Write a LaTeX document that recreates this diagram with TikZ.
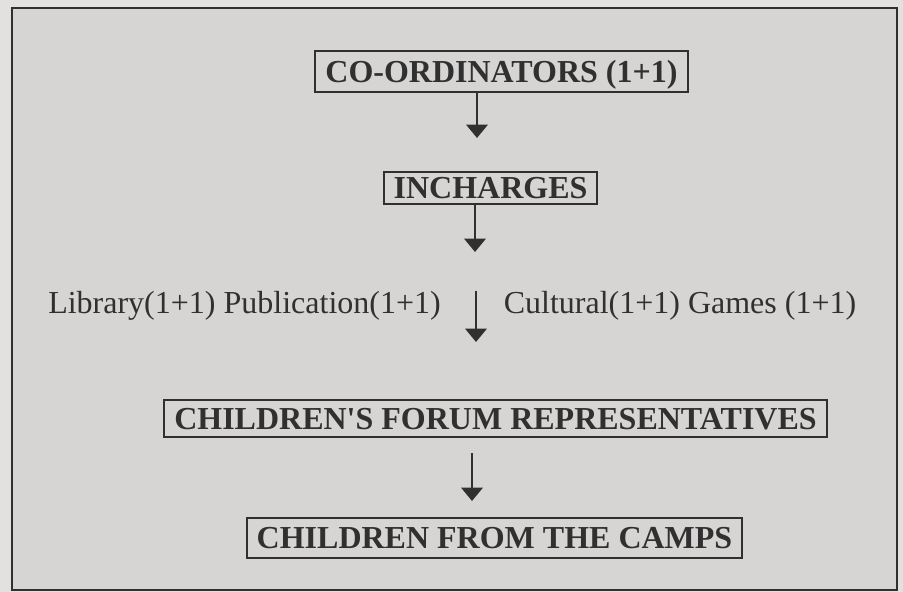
\documentclass[tikz,border=0pt]{standalone}
\usepackage{fontspec}
\setmainfont{Liberation Serif}
\usetikzlibrary{arrows.meta}
\definecolor{paper}{RGB}{214,213,212}
\definecolor{margin}{RGB}{226,225,224}
\definecolor{ink}{RGB}{48,48,48}

\begin{document}
\begin{tikzpicture}[x=0.75pt,y=-0.75pt,
    orgbox/.style={draw=ink, line width=1.5pt, text=ink,
      font=\fontsize{24}{28}\selectfont\bfseries,
      inner xsep=7.5pt, inner ysep=0pt, text height=19.5pt, text depth=3.5pt},
    rowtext/.style={text=ink, inner sep=0pt, anchor=base,
      font=\fontsize{24}{28}\selectfont},
    flow/.style={draw=ink, line width=1.8pt,
      -{Triangle[width=16pt,length=10pt]}}]
  \useasboundingbox (0,0) rectangle (903,592);
  \fill[margin] (0,0) rectangle (903,592);
  \fill[paper] (12,8) rectangle (897,590);
  \draw[ink, line width=2pt] (12,8) rectangle (897,590);

  \node[orgbox, minimum height=31pt] (coord) at (501.5,71.5) {CO-ORDINATORS (1+1)};
  \node[orgbox, minimum height=24pt] (incharge) at (490.5,187.5) {INCHARGES};
  \node[rowtext] (libpub) at (244.5,313) {Library(1+1) Publication(1+1)};
  \node[rowtext] (culgames) at (680,313) {Cultural(1+1) Games (1+1)};
  \node[orgbox, minimum height=28pt] (forum) at (495.5,418.5) {CHILDREN\textquotesingle S FORUM REPRESENTATIVES};
  \node[orgbox, minimum height=30pt] (camps) at (494.5,538) {CHILDREN FROM THE CAMPS};

  \coordinate (t1) at (477,138);
  \coordinate (t2) at (475,252);
  \coordinate (t3) at (476,342);
  \coordinate (s4) at (472,453);
  \coordinate (t4) at (472,501);
  \draw[flow] (coord.south -| t1) -- (t1);
  \draw[flow] (incharge.south -| t2) -- (t2);
  \draw[flow] (libpub.north -| t3) -- (t3);
  \draw[flow] (s4) -- (t4);
\end{tikzpicture}
\end{document}
